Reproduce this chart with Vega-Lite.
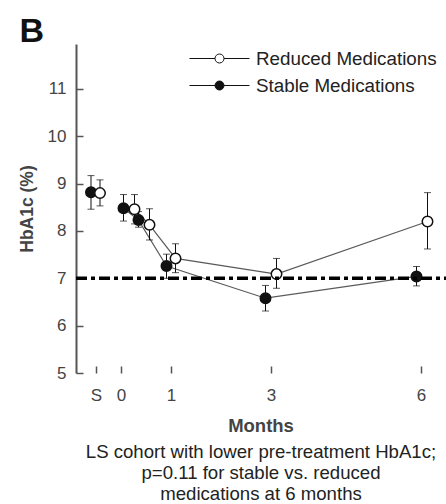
{
  "$schema": "https://vega.github.io/schema/vega-lite/v6.json",
  "width": 370,
  "height": 329,
  "autosize": {"type": "none"},
  "padding": {"left": 76, "top": 44, "right": 0, "bottom": 131},
  "config": {
    "font": "Liberation Sans",
    "view": {"stroke": null},
    "axis": {"grid": false}
  },
  "title": {
    "text": "Months",
    "subtitle": ["LS cohort with lower pre-treatment HbA1c;", "p=0.11 for stable vs. reduced", "medications at 6 months"],
    "orient": "bottom",
    "anchor": "middle",
    "frame": "group",
    "offset": 14,
    "fontSize": 18.5,
    "fontWeight": "bold",
    "color": "#444",
    "subtitleFontSize": 18.6,
    "subtitleColor": "#222",
    "subtitlePadding": 7,
    "subtitleLineHeight": 21.3
  },
  "datasets": {
    "hba1c": [
      {"group": "Stable Medications", "phase": "screen", "month": -0.6, "mean": 8.82, "lo": 8.46, "hi": 9.17},
      {"group": "Stable Medications", "phase": "follow", "month": 0.05, "mean": 8.48, "lo": 8.21, "hi": 8.77},
      {"group": "Stable Medications", "phase": "follow", "month": 0.35, "mean": 8.23, "lo": 8.08, "hi": 8.41},
      {"group": "Stable Medications", "phase": "follow", "month": 0.91, "mean": 7.26, "lo": 7.0, "hi": 7.51},
      {"group": "Stable Medications", "phase": "follow", "month": 2.89, "mean": 6.58, "lo": 6.31, "hi": 6.85},
      {"group": "Stable Medications", "phase": "follow", "month": 5.91, "mean": 7.04, "lo": 6.84, "hi": 7.25},
      {"group": "Reduced Medications", "phase": "screen", "month": -0.42, "mean": 8.8, "lo": 8.53, "hi": 9.08},
      {"group": "Reduced Medications", "phase": "follow", "month": 0.27, "mean": 8.46, "lo": 8.15, "hi": 8.77},
      {"group": "Reduced Medications", "phase": "follow", "month": 0.57, "mean": 8.13, "lo": 7.81, "hi": 8.47},
      {"group": "Reduced Medications", "phase": "follow", "month": 1.09, "mean": 7.42, "lo": 7.12, "hi": 7.73},
      {"group": "Reduced Medications", "phase": "follow", "month": 3.11, "mean": 7.09, "lo": 6.79, "hi": 7.42},
      {"group": "Reduced Medications", "phase": "follow", "month": 6.13, "mean": 8.2, "lo": 7.62, "hi": 8.81}
    ],
    "target": [
      {"label": "HbA1c target", "hba1c_target": 7, "from": -0.9, "to": 6.5}
    ]
  },
  "resolve": {"axis": {"x": "independent"}},
  "layer": [
    {
      "data": {"name": "hba1c"},
      "transform": [{"filter": "datum.phase === 'follow'"}],
      "mark": {"type": "line", "color": "#5a5a5a", "strokeWidth": 1.2},
      "encoding": {
        "x": {
          "field": "month", "type": "quantitative",
          "scale": {"domain": [-0.9, 6.5], "nice": false, "zero": false},
          "axis": {
            "orient": "bottom",
            "values": [-0.5, 0, 1, 3, 6],
            "labelExpr": "datum.value === -0.5 ? 'S' : datum.label",
            "domain": false,
            "tickSize": -7,
            "tickColor": "#555",
            "tickWidth": 1.5,
            "labelPadding": 21,
            "labelFontSize": 17,
            "labelColor": "#444",
            "labelFlush": false,
            "title": null
          }
        },
        "y": {
          "field": "mean", "type": "quantitative", "title": "HbA1c (%)",
          "scale": {"domain": [5, 11.95], "nice": false, "zero": false},
          "axis": {
            "values": [5, 6, 7, 8, 9, 10, 11],
            "domainColor": "#555",
            "domainWidth": 2,
            "tickSize": -7,
            "tickColor": "#555",
            "tickWidth": 1.5,
            "labelPadding": 17,
            "labelFontSize": 17,
            "labelColor": "#444",
            "titleFontSize": 17.5,
            "titleFontWeight": "bold",
            "titleColor": "#444",
            "titlePadding": 11
          }
        },
        "detail": {"field": "group"}
      }
    },
    {
      "data": {"name": "hba1c"},
      "mark": {"type": "rule", "color": "#111", "strokeWidth": 1},
      "encoding": {
        "x": {"field": "month", "type": "quantitative", "axis": null},
        "y": {"field": "lo", "type": "quantitative", "title": "HbA1c (%)"},
        "y2": {"field": "hi"}
      }
    },
    {
      "data": {"name": "hba1c"},
      "mark": {"type": "tick", "orient": "horizontal", "size": 7, "thickness": 1, "color": "#111"},
      "encoding": {
        "x": {"field": "month", "type": "quantitative", "axis": null},
        "y": {"field": "lo", "type": "quantitative", "title": "HbA1c (%)"}
      }
    },
    {
      "data": {"name": "hba1c"},
      "mark": {"type": "tick", "orient": "horizontal", "size": 7, "thickness": 1, "color": "#111"},
      "encoding": {
        "x": {"field": "month", "type": "quantitative", "axis": null},
        "y": {"field": "hi", "type": "quantitative", "title": "HbA1c (%)"}
      }
    },
    {
      "data": {"name": "hba1c"},
      "mark": {"type": "point", "shape": "circle", "filled": true, "size": 110, "stroke": "#111", "strokeWidth": 1.5, "opacity": 1},
      "encoding": {
        "x": {"field": "month", "type": "quantitative", "axis": null},
        "y": {"field": "mean", "type": "quantitative", "title": "HbA1c (%)"},
        "fill": {
          "field": "group", "type": "nominal",
          "scale": {"domain": ["Reduced Medications", "Stable Medications"], "range": ["#ffffff", "#111111"]},
          "legend": {
            "orient": "none",
            "legendX": 133,
            "legendY": 4,
            "title": null,
            "symbolType": "M-3,0H-0.45M0.45,0H3M-0.45,0A0.45,0.45 0 1,1 0.45,0A0.45,0.45 0 1,1 -0.45,0",
            "symbolSize": 400,
            "symbolStrokeColor": "#111",
            "symbolStrokeWidth": 1,
            "labelOffset": 26,
            "labelFontSize": 18.8,
            "labelColor": "#222",
            "rowPadding": 6,
            "labelLimit": 300
          }
        }
      }
    },
    {
      "mark": {"type": "rule", "color": "#555", "strokeWidth": 2},
      "encoding": {
        "x": {
          "datum": -0.9, "type": "quantitative",
          "axis": {
            "orient": "top",
            "domain": false, "ticks": false, "labels": false, "grid": false,
            "title": "B",
            "titleAnchor": "start",
            "titleAlign": "left",
            "titleBaseline": "alphabetic",
            "titleX": -57,
            "titleY": -3,
            "titleFontSize": 34,
            "titleFontWeight": "bold",
            "titleColor": "#111"
          }
        },
        "x2": {"datum": -0.4},
        "y": {"datum": 5, "type": "quantitative"}
      }
    },
    {
      "mark": {"type": "rule", "color": "#555", "strokeWidth": 2},
      "encoding": {
        "x": {"datum": -0.07, "type": "quantitative", "axis": null},
        "x2": {"datum": 6.5},
        "y": {"datum": 5, "type": "quantitative"}
      }
    },
    {
      "data": {"name": "target"},
      "mark": {"type": "rule", "color": "#000", "strokeWidth": 3.5},
      "encoding": {
        "x": {"field": "from", "type": "quantitative", "axis": null},
        "x2": {"field": "to"},
        "y": {"field": "hba1c_target", "type": "quantitative", "title": "HbA1c (%)"},
        "strokeDash": {"value": [11, 4, 4, 4]}
      }
    }
  ]
}
